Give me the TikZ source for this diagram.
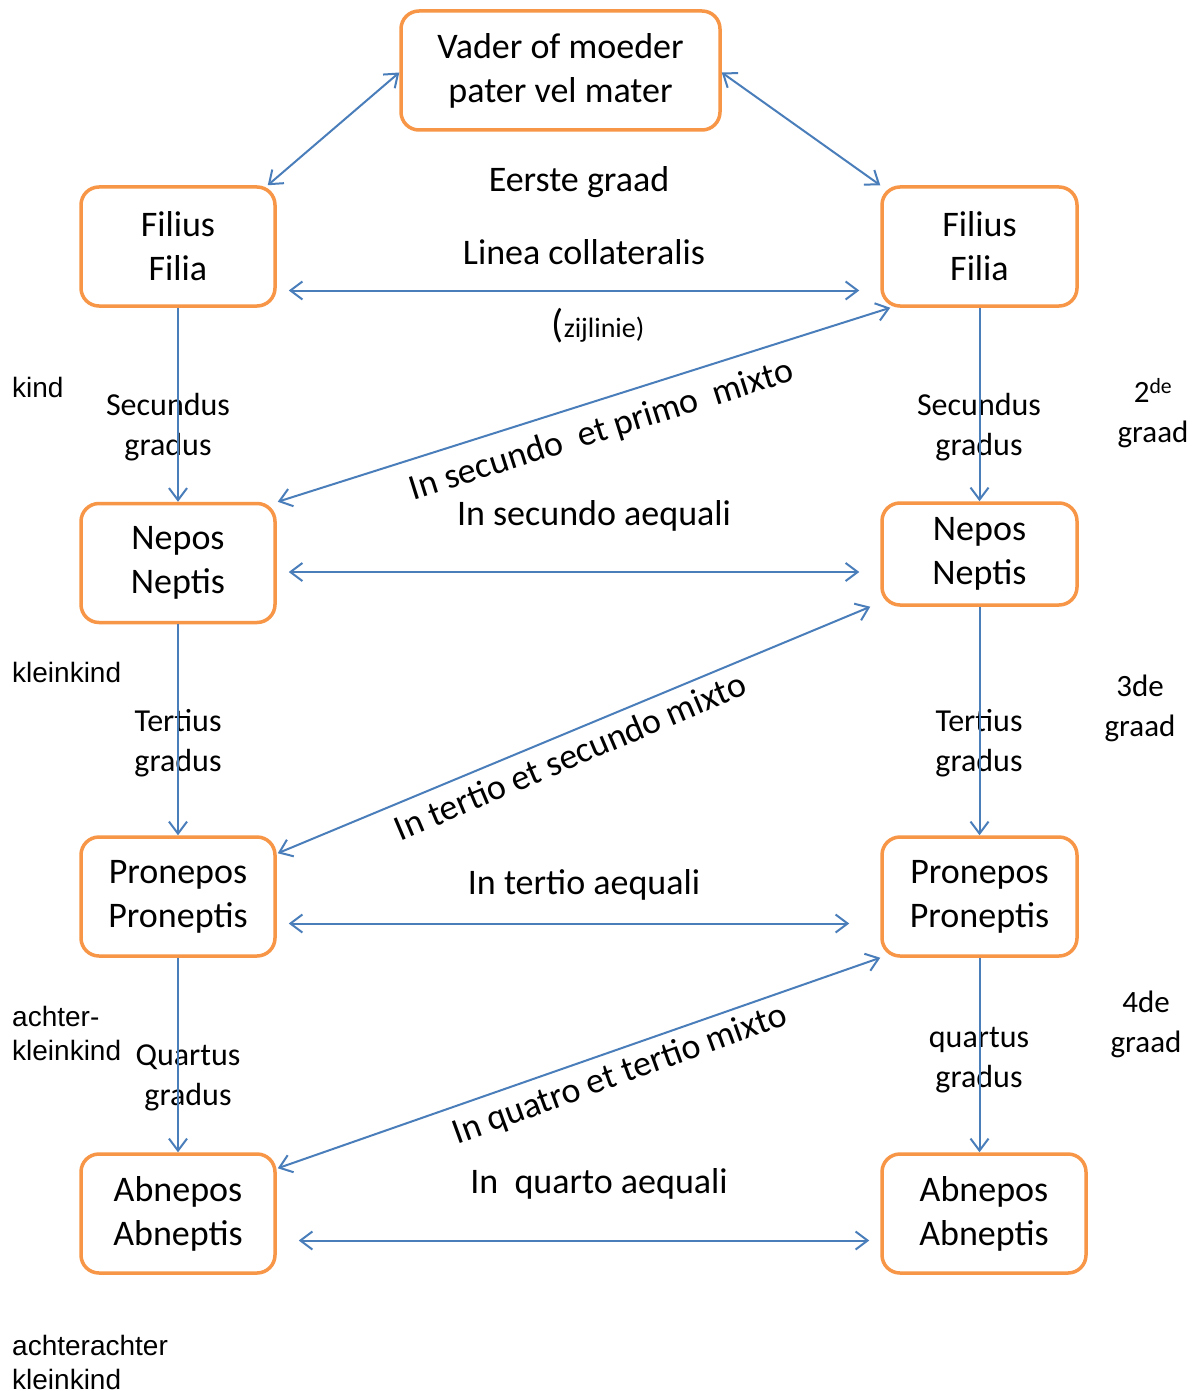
\documentclass[tikz,border=0pt]{standalone}
\usepackage{fontspec}
\setmainfont{Carlito}
\newfontfamily\arialf{Liberation Sans}
\usetikzlibrary{arrows.meta,calc}
\definecolor{boxorange}{HTML}{F79646}
\definecolor{arrowblue}{HTML}{4A7EBB}
\begin{document}
\begin{tikzpicture}[x=1pt,y=-1pt,
  box/.style={draw=boxorange, line width=3.5pt, rounded corners=18pt, fill=white, align=center,
    font=\fontsize{36}{44}\selectfont, inner sep=0pt, minimum width=194pt, minimum height=119pt},
  conn/.style={draw=arrowblue, line width=2pt},
  both/.style={conn, {Straight Barb[length=12pt,width=18pt]}-{Straight Barb[length=12pt,width=18pt]}},
  fwd/.style={conn, -{Straight Barb[length=12pt,width=18pt]}},
  lbl/.style={align=center, font=\fontsize{32}{40}\selectfont, inner sep=0pt},
  big/.style={align=center, font=\fontsize{36}{44}\selectfont, inner sep=0pt},
  side/.style={align=left, anchor=west, font=\arialf\fontsize{28}{34}\selectfont, inner sep=0pt},
  grd/.style={align=center, font=\fontsize{31}{40}\selectfont, inner sep=0pt},
]
\useasboundingbox (0,0) rectangle (1198,1391);
\fill[white] (0,0) rectangle (1198,1391);

% boxes
\node[box, minimum width=319pt] (top) at (560.5,70.5) {Vader of moeder\\pater vel mater};
\node[box] (fl) at (178,246.5) {Filius\\Filia};
\node[box, minimum width=195pt] (fr) at (979.5,246.5) {Filius\\Filia};
\node[box] (nl) at (178,563) {Nepos\\Neptis};
\node[box, minimum width=195pt, minimum height=102pt] (nr) at (979.5,554) {Nepos\\Neptis};
\node[box] (pl) at (178,896.5) {Pronepos\\Proneptis};
\node[box, minimum width=195pt] (pr) at (979.5,896.5) {Pronepos\\Proneptis};
\node[box] (al) at (178,1213.5) {Abnepos\\Abneptis};
\node[box, minimum width=204pt] (ar) at (984,1213.5) {Abnepos\\Abneptis};

% labels
\node[big] (eerste) at (579,182) {Eerste graad};
\node[big] (linea) at (584,252) {Linea collateralis};
\node[lbl, font=\fontsize{28}{34}\selectfont] (zij) at (598,326) {{\fontsize{40}{44}\selectfont(}zijlinie)};
\node[lbl] (secl) at (168,427) {Secundus\\gradus};
\node[lbl] (secr) at (979,427) {Secundus\\gradus};
\node[lbl] (terl) at (178,743) {Tertius\\gradus};
\node[lbl] (terr) at (979,743) {Tertius\\gradus};
\node[lbl] (qual) at (188,1078) {Quartus\\gradus};
\node[lbl] (quar) at (979,1060) {quartus\\gradus};
\node[big] (aeq2) at (594,516) {In secundo aequali};
\node[big] (aeq3) at (584,885) {In tertio aequali};
\node[big] (aeq4) at (599,1184) {In\ \ quarto aequali};
\node[big, rotate=17.5] (mix1) at (602,431) {In secundo\ \ et primo\ \ mixto};
\node[big, rotate=23] (mix2) at (570,756) {In tertio et secundo mixto};
\node[big, rotate=20] (mix3) at (620,1075) {In quatro et tertio mixto};

\node[side] (kind) at (12,387) {kind};
\node[side] (klein) at (12,672) {kleinkind};
\node[side] (achter) at (12,1033) {achter-\\kleinkind};
\node[side] (achter2) at (12,1362) {achterachter\\kleinkind};

\node[grd] (g2) at (1153,413) {2\textsuperscript{de}\\graad};
\node[grd] (g3) at (1140,708) {3de\\graad};
\node[grd] (g4) at (1146,1024) {4de\\graad};

% connectors
\draw[both] ($(top.west)+(0,2)$) -- ($(fl.north east)+(-9,0)$);
\draw[both] ($(top.east)+(0,2)$) -- (fr.north west);
\draw[both] ($(fl.east)+(12,44)$) -- ($(fr.west)+(-21,44)$);
\draw[both] ($(nl.east)+(12,9)$) -- ($(nl.east -| nr.west)+(-21,9)$);
\draw[both] ($(pl.east)+(12,27)$) -- ($(pr.west)+(-31,27)$);
\draw[both] ($(al.east)+(22,27)$) -- ($(ar.west)+(-11,27)$);

\draw[fwd] (fl.south) -- (nl.north);
\draw[fwd] (fl.south -| fr.south) -- (fr.south |- nr.north);
\draw[fwd] (nl.south) -- (pl.north);
\draw[fwd] (nr.south) -- (pr.north);
\draw[fwd] (pl.south) -- (al.north);
\draw[fwd] (pr.south) -- (pr.south |- ar.north);

\draw[both] ($(nl.north east)+(1,0)$) -- ($(fr.south west)+(10,0)$);
\draw[both] ($(pl.north east)+(1,18)$) -- ($(nr.south west)+(-10,0)$);
\draw[both] ($(al.north east)+(1,16)$) -- (pr.south west);
\end{tikzpicture}
\end{document}
